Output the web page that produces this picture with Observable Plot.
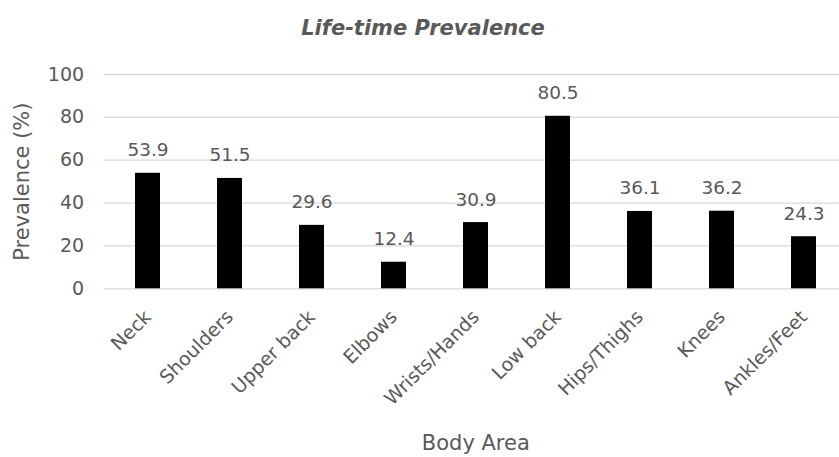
<!DOCTYPE html>
<html><head><meta charset="utf-8">
<script src="https://cdn.jsdelivr.net/npm/d3@7"></script>
<script src="https://cdn.jsdelivr.net/npm/@observablehq/plot@0.6"></script>
<style>
body{margin:0;background:#fff;}
#title{width:846px;height:50px;text-align:center;font:italic bold 21px "DejaVu Sans";color:#595959;line-height:26px;padding-top:15px;box-sizing:border-box;}
</style></head><body>
<div id="title">Life-time Prevalence</div>
<div id="chart"></div>
<script>
const categories = ["Neck","Shoulders","Upper back","Elbows","Wrists/Hands","Low back","Hips/Thighs","Knees","Ankles/Feet"];
const values = [53.9, 51.5, 29.6, 12.4, 30.9, 80.5, 36.1, 36.2, 24.3];
const yTicks = [0, 20, 40, 60, 80, 100];
const xLabel = "Body Area";
const yLabel = "Prevalence (%)";

const data = categories.map((c, i) => ({area: c, value: values[i], label: values[i].toFixed(1)}));

const chart = Plot.plot({
  width: 839, height: 407,
  marginLeft: 103.6, marginRight: 0, marginTop: 24, marginBottom: 168.7,
  style: {fontFamily: "DejaVu Sans", fontSize: "18px", color: "#595959", background: "white"},
  x: {domain: categories, range: [103.6, 848], paddingInner: 0.7, paddingOuter: 0.35, align: 0.5},
  y: {domain: [0, 100], range: [238.3, 24]},
  marks: [
    Plot.ruleY(yTicks, {stroke: "#d9d9d9", strokeWidth: 1.3}),
    Plot.barY(data, {x: "area", y: "value", fill: "#000"}),
    Plot.text(data, {x: "area", y: "value", text: "label", dy: -17, lineAnchor: "bottom", fill: "#595959", fontSize: 18.5}),
    Plot.axisY({ticks: yTicks, tickSize: 0, tickPadding: 20, label: null, fontSize: 19}),
    Plot.axisX({tickSize: 0, tickRotate: -45, tickPadding: 25, label: null, fontSize: 19}),
    Plot.text([yLabel], {text: d => d, frameAnchor: "left", rotate: -90, dx: -81.6, textAnchor: "middle", lineAnchor: "middle", fill: "#595959", fontSize: 21}),
    Plot.text([xLabel], {text: d => d, frameAnchor: "bottom", dx: 4, dy: 154, textAnchor: "middle", lineAnchor: "middle", fill: "#595959", fontSize: 21})
  ]
});
document.getElementById("chart").appendChild(chart);
</script>
</body></html>
